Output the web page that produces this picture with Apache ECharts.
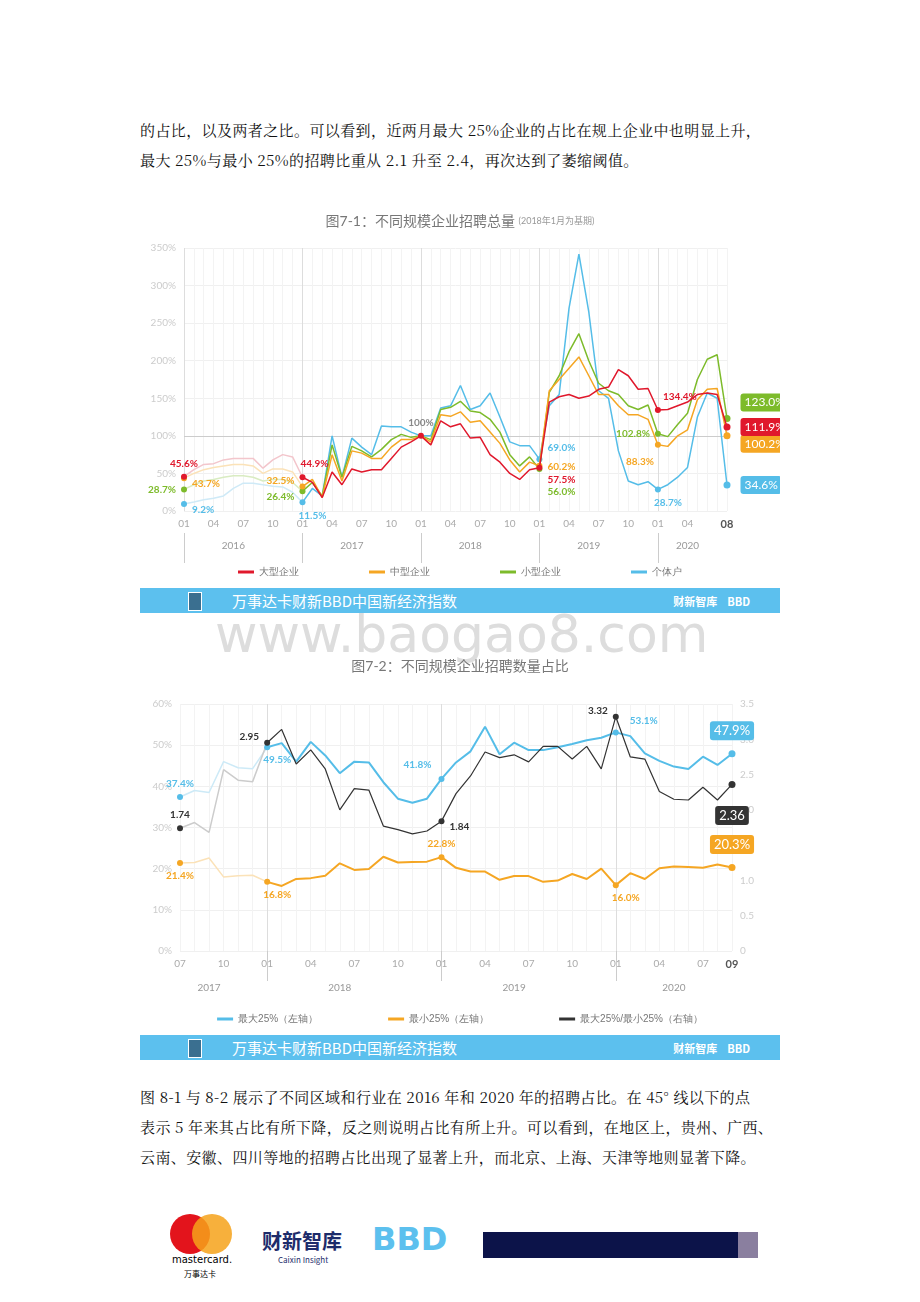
<!DOCTYPE html>
<html><head><meta charset="utf-8">
<script src="https://cdn.jsdelivr.net/npm/echarts@6/dist/echarts.min.js"></script>
<style>
body{margin:0;width:920px;height:1302px;background:#fff;position:relative;font-family:"Noto Sans CJK SC",sans-serif;overflow:hidden}
.p{position:absolute;left:140px;width:645px;font-family:"Noto Serif CJK SC","Noto Sans CJK SC",serif;font-size:15px;letter-spacing:0.4px;color:#111;line-height:30px;text-align:justify}
.banner{position:absolute;left:140px;width:640px;height:25px;background:#5cc0ee;color:#fff;font-size:15px}
.banner .ic{position:absolute;left:48px;top:4px;width:12px;height:17px;background:#3a6f90;border:1px solid #fff}
.banner .t{position:absolute;left:92px;top:2px}
.banner .r{position:absolute;right:30px;top:5px;font-size:11px;font-weight:bold}
.chart{position:absolute;left:140px;width:640px}
</style></head><body>
<div class="p" style="top:115px">的占比，以及两者之比。可以看到，近两月最大 25%企业的占比在规上企业中也明显上升，<br>最大 25%与最小 25%的招聘比重从 2.1 升至 2.4，再次达到了萎缩阈值。</div>
<div id="c1" class="chart" style="top:205px;height:383px"></div>
<div class="banner" style="top:588px"><div class="ic"></div><div class="t">万事达卡财新BBD中国新经济指数</div><div class="r">财新智库 &nbsp;&nbsp; BBD</div></div>
<div style="position:absolute;left:215px;top:604px;font-size:52px;color:#ddd;font-family:'DejaVu Sans'">www.baogao8.com</div>
<div id="c2" class="chart" style="top:650px;height:385px"></div>
<div class="banner" style="top:1035px"><div class="ic"></div><div class="t">万事达卡财新BBD中国新经济指数</div><div class="r">财新智库 &nbsp;&nbsp; BBD</div></div>
<div class="p" style="top:1082px">图 8-1 与 8-2 展示了不同区域和行业在 2016 年和 2020 年的招聘占比。在 45° 线以下的点<br>表示 5 年来其占比有所下降，反之则说明占比有所上升。可以看到，在地区上，贵州、广西、<br>云南、安徽、四川等地的招聘占比出现了显著上升，而北京、上海、天津等地则显著下降。</div>
<div style="position:absolute;left:170px;top:1214px;width:40px;height:40px;border-radius:20px;background:#e3141c"></div>
<div style="position:absolute;left:192px;top:1214px;width:40px;height:40px;border-radius:20px;background:#f6a21a;opacity:.85"></div>
<div style="position:absolute;left:172px;top:1254px;font-size:10px;font-family:'DejaVu Sans'">mastercard.</div>
<div style="position:absolute;left:184px;top:1268px;font-size:8px">万事达卡</div>
<div style="position:absolute;left:262px;top:1226px;font-size:20px;font-weight:bold;color:#1d2c6b">财新智库</div>
<div style="position:absolute;left:278px;top:1254px;font-size:8px;color:#1d2c6b">Caixin Insight</div>
<div style="position:absolute;left:372px;top:1220px;font-size:32px;font-weight:900;color:#5cc0ee;font-family:'DejaVu Sans'">BBD</div>
<div style="position:absolute;left:483px;top:1232px;width:255px;height:26px;background:#0c1349"></div>
<div style="position:absolute;left:738px;top:1232px;width:20px;height:26px;background:#8a7f9f"></div>
<script>
// ---------- 图7-1 数据 ----------
const months1 = [];
for (let y = 2016; y <= 2020; y++) for (let m = 1; m <= 12; m++) if (!(y === 2020 && m > 8)) months1.push(y + '-' + String(m).padStart(2, '0'));
const large = [45.6,55,62,63,68,70,70,70,57,68,75,72, 44.9,38,18,52,35,56,52,55,55,70,85,92, 100,88,120,112,116,97,98,75,65,50,42,55, 57.5,145,152,155,150,153,162,165,188,180,162,163, 134.4,135,140,145,155,157,155,111.9];
const medium = [43.7,50,55,58,60,62,62,60,50,56,56,52, 32.5,42,18,75,40,80,77,70,70,85,95,95, 100,92,128,126,132,118,120,105,90,68,52,65, 60.2,160,175,190,205,180,155,155,140,128,128,122, 88.3,86,100,108,148,162,163,100.2];
const small = [28.7,35,40,42,45,47,47,45,40,42,42,38, 26.4,38,20,88,45,86,80,72,82,95,102,98, 100,95,135,138,146,133,131,122,105,75,60,72, 56.0,158,180,212,236,200,170,160,155,140,135,141, 102.8,99,115,130,175,202,208,123.0];
const indiv = [9.2,12,15,17,20,30,37,37,35,33,32,25, 11.5,30,20,100,45,97,85,75,113,112,112,105, 100,100,137,140,167,135,140,157,125,92,87,87, 69.0,140,155,270,342,265,160,150,80,40,35,39, 28.7,35,45,58,125,157,150,34.6];
const names1 = ['大型企业', '中型企业', '小型企业', '个体户'];
const colors1 = ['#e0182c', '#f5a623', '#7dbb2b', '#55bde8'];
const faded1 = ['#f3c6cc', '#fbe2b8', '#d9ecc2', '#cfeaf7'];

// ---------- 图7-2 数据 ----------
const months2 = [];
for (let y = 2017; y <= 2020; y++) for (let m = 1; m <= 12; m++) if (!(y === 2017 && m < 7) && !(y === 2020 && m > 9)) months2.push(y + '-' + String(m).padStart(2, '0'));
const top25 = [37.4,39,38.5,46,44.5,44.3, 49.5,50.5,46,50.8,47.5,43.2,46,45.8,41,37,36,37, 41.8,45.8,48.5,54.5,47.8,50.6,48.8,48.8,49.5,50.3,51.2,51.8, 53.1,52.2,48,46.2,44.8,44.2,47.2,45.2,47.9];
const bottom25 = [21.4,21.5,22.6,18,18.3,18.4, 16.8,15.8,17.5,17.7,18.3,21.3,19.7,19.9,22.9,21.5,21.6,21.7, 22.8,20.2,19.3,19.3,17.3,18.2,18.2,16.8,17.1,18.7,17.5,20, 16.0,18.9,17.5,20.1,20.5,20.4,20.2,21,20.3];
const ratio = [1.74,1.82,1.68,2.57,2.42,2.40, 2.95,3.14,2.65,2.85,2.58,2.0,2.3,2.28,1.77,1.72,1.66,1.7, 1.84,2.23,2.48,2.82,2.74,2.78,2.68,2.9,2.9,2.72,2.9,2.58, 3.32,2.75,2.72,2.26,2.15,2.14,2.32,2.14,2.36];

const font = 'Lato, "Noto Sans CJK SC", sans-serif';

// marks: [index, position, offset]
function markData(vals, marks, color, fmt, endIdx, endPos, endOff) {
    return vals.map((v, i) => {
        if (i === endIdx) {
            return { value: v, symbol: 'circle', symbolSize: 7, label: { show: true, position: endPos, distance: 10, offset: endOff,
                formatter: fmt(v), color: '#fff', backgroundColor: color, borderRadius: 3, padding: [3, 4], fontSize: 12, fontFamily: font } };
        }
        const m = marks.find(k => k[0] === i);
        if (!m) return v;
        return { value: v, symbol: 'circle', symbolSize: 6, label: { show: true, position: m[1], offset: m[2] || [0, 0], formatter: fmt(v), color: color, fontSize: 10, fontFamily: font, fontWeight: 'bold' } };
    });
}

// 淡色的前段
function fadedSeries(vals, cut, color, yIdx) {
    return { name: '_f', type: 'line', yAxisIndex: yIdx || 0, symbol: 'none', silent: true, z: 1,
        data: vals.map((v, i) => (i <= cut ? v : null)), lineStyle: { width: 1.5, color: color } };
}

function yearAxis(cats, offset) {
    return {
        type: 'category', data: cats, position: 'bottom', offset: offset, boundaryGap: false,
        axisLine: { show: false },
        axisTick: { show: true, length: 30, lineStyle: { color: '#ccc' }, interval: (i, v) => v.endsWith('-01') },
        axisLabel: { color: '#999', fontSize: 10, fontFamily: font, interval: 0,
            formatter: (v) => {
                const y = v.slice(0, 4);
                const list = cats.filter(c => c.startsWith(y));
                return list[Math.floor((list.length - 1) / 2)] === v ? y : '';
            } },
        splitLine: { show: true, interval: (i, v) => v.endsWith('-01'), lineStyle: { color: '#ddd' } }
    };
}

function monthLabel(cats, lastTxt) {
    return (v, i) => {
        if (i === cats.length - 1) return '{b|' + lastTxt + '}';
        if (i >= cats.length - 2) return '';
        return [1, 4, 7, 10].includes(+v.slice(5)) ? v.slice(5) : '';
    };
}

const c1 = echarts.init(document.getElementById('c1'));
const fmt1 = v => v.toFixed(1) + '%';
const marks1 = [
    [large, [[0, 'top'], [12, 'top', [12, 0]], [24, 'top'], [36, 'right', [0, 12]], [48, 'top', [22, 0]]], 'right', [0, 0]],
    [medium, [[0, 'right', [0, 6]], [12, 'left', [0, -6]], [36, 'right', [0, 1]], [48, 'bottom', [-18, 4]]], 'right', [0, 8]],
    [small, [[0, 'left'], [12, 'left', [0, 6]], [36, 'right', [0, 23]], [48, 'left']], 'right', [0, -16]],
    [indiv, [[0, 'right', [0, 6]], [12, 'bottom', [10, 0]], [36, 'right', [0, -11]], [48, 'bottom', [10, 0]]], 'right', [0, 0]]
];
const series1 = marks1.map((m, s) => ({
    name: names1[s], type: 'line',
    data: markData(m[0], m[1], colors1[s], fmt1, 55, m[2], m[3]).map((d, i) => (i < 12 ? (typeof d === 'object' ? d : null) : d)),
    symbol: 'none', lineStyle: { width: 1.5 }, color: colors1[s], z: 10 - s
}));
series1[0].data[24].label.formatter = '100%';
series1[0].data[24].label.color = '#888';
series1[0].markLine = { silent: true, symbol: 'none', label: { show: false },
    lineStyle: { color: '#ccc', type: 'solid', width: 1 }, data: [{ yAxis: 100 }] };
const fad1 = marks1.map((m, s) => fadedSeries(m[0], 12, faded1[s]));
c1.setOption({
    title: { text: '图7-1：不同规模企业招聘总量 {s|(2018年1月为基期)}', left: 'center', top: 4,
        textStyle: { fontSize: 14, color: '#777', fontWeight: 'normal', fontFamily: font,
            rich: { s: { fontSize: 9, color: '#999' } } } },
    legend: { bottom: 6, itemWidth: 16, itemHeight: 3, itemGap: 70, icon: 'rect',
        textStyle: { color: '#777', fontSize: 10 }, data: names1 },
    grid: { left: 44, right: 53, top: 43, bottom: 77 },
    xAxis: [{
        type: 'category', data: months1, boundaryGap: false,
        axisLine: { show: false }, axisTick: { show: false },
        axisLabel: { color: '#aaa', fontSize: 10, fontFamily: font, interval: 0, formatter: monthLabel(months1, '08'),
            rich: { b: { color: '#555', fontWeight: 'bold', fontSize: 11 } } },
        splitLine: { show: true, interval: 0, lineStyle: { color: '#f3f3f3' } }
    }, yearAxis(months1, 22)],
    yAxis: { type: 'value', min: 0, max: 350, interval: 50,
        axisLabel: { formatter: '{value}%', color: '#ccc', fontSize: 10, fontFamily: font },
        axisLine: { show: false }, axisTick: { show: false },
        splitLine: { lineStyle: { color: '#f0f0f0' } } },
    series: fad1.concat(series1)
});

const c2 = echarts.init(document.getElementById('c2'));
const names2 = ['最大25%（左轴）', '最小25%（左轴）', '最大25%/最小25%（右轴）'];
const colors2 = ['#55bde8', '#f5a623', '#333'];
const faded2 = ['#cdeaf7', '#fbe2b8', '#ccc'];
const pct = v => v.toFixed(1) + '%';
const vals2 = [top25, bottom25, ratio];
const s2 = [
    { name: names2[0], type: 'line', yAxisIndex: 0, data: markData(top25, [[0, 'top'], [6, 'bottom', [10, 0]], [18, 'left', [-2, -14]], [30, 'right', [6, -12]]], colors2[0], pct, 38, 'top', [0, 0]) },
    { name: names2[1], type: 'line', yAxisIndex: 0, data: markData(bottom25, [[0, 'bottom'], [6, 'bottom', [10, 0]], [18, 'top'], [30, 'bottom', [10, 0]]], colors2[1], pct, 38, 'top', [0, 0]) },
    { name: names2[2], type: 'line', yAxisIndex: 1, data: markData(ratio, [[0, 'top'], [6, 'left', [0, -6]], [18, 'right', [0, 6]], [30, 'left', [0, -6]]], colors2[2], v => v.toFixed(2), 38, 'bottom', [0, 8]) }
];
s2.forEach((s, i) => {
    s.symbol = 'none'; s.color = colors2[i]; s.lineStyle = { width: i === 2 ? 1.2 : 2 }; s.z = 10;
    s.data = s.data.map((d, k) => (k < 6 ? (typeof d === 'object' ? d : null) : d));
    s.data[38].label.fontSize = 13;
});
const fad2 = vals2.map((v, i) => fadedSeries(v, 6, faded2[i], i === 2 ? 1 : 0));
c2.setOption({
    title: { text: '图7-2：不同规模企业招聘数量占比', left: 'center', top: 4,
        textStyle: { fontSize: 14, color: '#777', fontWeight: 'normal', fontFamily: font } },
    legend: { bottom: 6, itemWidth: 16, itemHeight: 3, itemGap: 70, icon: 'rect',
        textStyle: { color: '#777', fontSize: 10 }, data: names2 },
    grid: { left: 40, right: 48, top: 54, bottom: 84 },
    xAxis: [{
        type: 'category', data: months2, boundaryGap: false,
        axisLine: { show: false }, axisTick: { show: false },
        axisLabel: { color: '#aaa', fontSize: 10, fontFamily: font, interval: 0, formatter: monthLabel(months2, '09'),
            rich: { b: { color: '#555', fontWeight: 'bold', fontSize: 11 } } },
        splitLine: { show: true, interval: 0, lineStyle: { color: '#f3f3f3' } }
    }, yearAxis(months2, 24)],
    yAxis: [{ type: 'value', min: 0, max: 60, interval: 10,
        axisLabel: { formatter: '{value}%', color: '#ccc', fontSize: 10, fontFamily: font },
        axisLine: { show: false }, axisTick: { show: false }, splitLine: { lineStyle: { color: '#f0f0f0' } } },
    { type: 'value', min: 0, max: 3.5, interval: 0.5,
        axisLabel: { formatter: v => (v === 0 ? '0' : v.toFixed(1)), color: '#ccc', fontSize: 10, fontFamily: font },
        axisLine: { show: false }, axisTick: { show: false }, splitLine: { show: false } }],
    series: fad2.concat(s2)
});
</script>
</body></html>
